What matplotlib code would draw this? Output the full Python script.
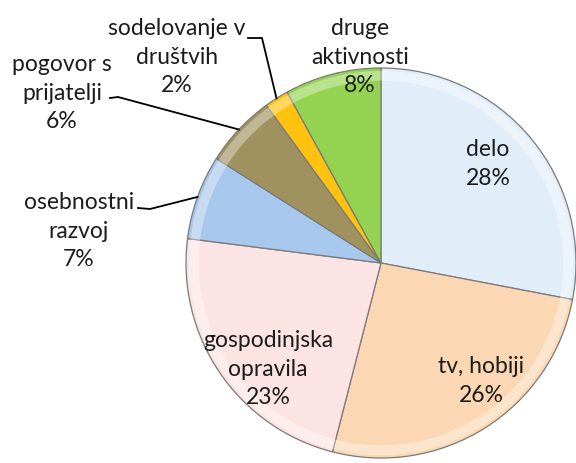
import numpy as np
import matplotlib.pyplot as plt

labels = ["delo", "tv, hobiji", "gospodinjska\nopravila", "osebnostni\nrazvoj",
          "pogovor s\nprijatelji", "sodelovanje v\ndruštvih", "druge\naktivnosti"]
values = [28, 26, 23, 7, 6, 2, 8]
colors = ["#e2edfa", "#fbd8b3", "#fce4e4", "#a8c7ec", "#a0925e", "#ffc20e", "#94d352"]

# label centres in pixels (x, y from top)
label_pos = [(488, 164), (481, 381), (268, 369), (79, 231), (62, 93), (177, 57), (360, 57)]
# leader lines: text-side points in pixels, None = no leader
leader = [None, None, None, [(138, 208), (150, 209)], [(110, 98), (118, 97)],
          [(248, 38), (262, 38)], None]

W, H = 576, 463
cx, cy, R = 381, 263, 195

fig = plt.figure(figsize=(W / 100, H / 100), dpi=100)
ax = fig.add_axes([(cx - R) / W, (H - cy - R) / H, 2 * R / W, 2 * R / H])

def px(p):
    return ((p[0] - cx) / R, (cy - p[1]) / R)

wedges, _ = ax.pie(values, colors=colors, startangle=90, counterclock=False, radius=1,
                   wedgeprops=dict(edgecolor="#7a7a7a", linewidth=0.9))
# light rim to hint at the bevel
ax.pie(values, colors=["white"] * len(values), startangle=90, counterclock=False, radius=0.985,
       wedgeprops=dict(width=0.05, alpha=0.35, linewidth=0))
ax.set_xlim(-1, 1)
ax.set_ylim(-1, 1)
ax.axis("off")

for i, w in enumerate(wedges):
    x, y = px(label_pos[i])
    ax.text(x, y, f"{labels[i]}\n{values[i]}%", ha="center", va="center",
            fontsize=16.5, family="Lato", color="#1c1c1c", linespacing=1.42)
    if leader[i] is not None:
        ang = np.deg2rad((w.theta1 + w.theta2) / 2)
        pts = [px(p) for p in leader[i]] + [(np.cos(ang), np.sin(ang))]
        ax.plot([p[0] for p in pts], [p[1] for p in pts], color="black", lw=1.3, clip_on=False)

fig.savefig("out.png", dpi=100)
